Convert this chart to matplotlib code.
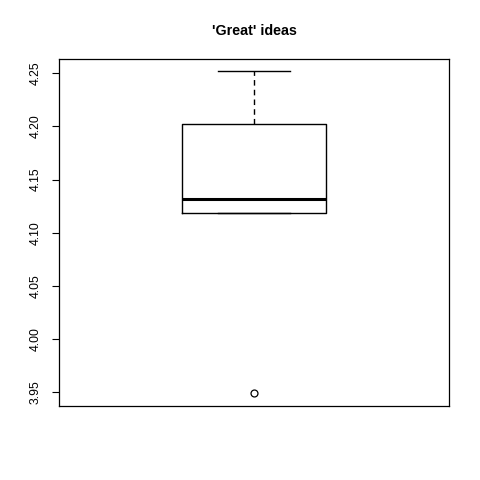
import matplotlib
matplotlib.use("Agg")
import matplotlib.pyplot as plt

values = [3.949, 4.1186, 4.132, 4.202, 4.252]
yticks = [3.95, 4.00, 4.05, 4.10, 4.15, 4.20, 4.25]
ytick_labels = ["3.95", "4.00", "4.05", "4.10", "4.15", "4.20", "4.25"]
title = "'Great' ideas"

plt.rcParams['font.family'] = ['Liberation Sans', 'DejaVu Sans']

fig = plt.figure(figsize=(4.8, 4.8), dpi=100)
ax = fig.add_axes([59/480, 1-406/480, 390/480, 347/480])

ax.boxplot([values], positions=[1], widths=0.4, whis=1.5,
           patch_artist=False,
           boxprops=dict(color='black', linewidth=1.0),
           whiskerprops=dict(color='black', linewidth=1.0, linestyle=(0, (4, 3))),
           capprops=dict(color='black', linewidth=1.0),
           medianprops=dict(color='black', linewidth=2.2),
           flierprops=dict(marker='o', markerfacecolor='none', markeredgecolor='black',
                           markersize=5, markeredgewidth=0.9))

ax.set_xlim(0.46, 1.54)
ax.set_ylim(3.937, 4.2635)
ax.set_xticks([])
ax.set_yticks(yticks)
ax.set_yticklabels(ytick_labels, rotation=90, va='center', fontsize=8.8)
ax.tick_params(axis='y', length=5, width=0.8, pad=7.5)
for s in ax.spines.values():
    s.set_linewidth(0.9)
ax.set_title(title, fontsize=10.3, fontweight='bold', pad=17)

fig.savefig("out.png", dpi=100)
